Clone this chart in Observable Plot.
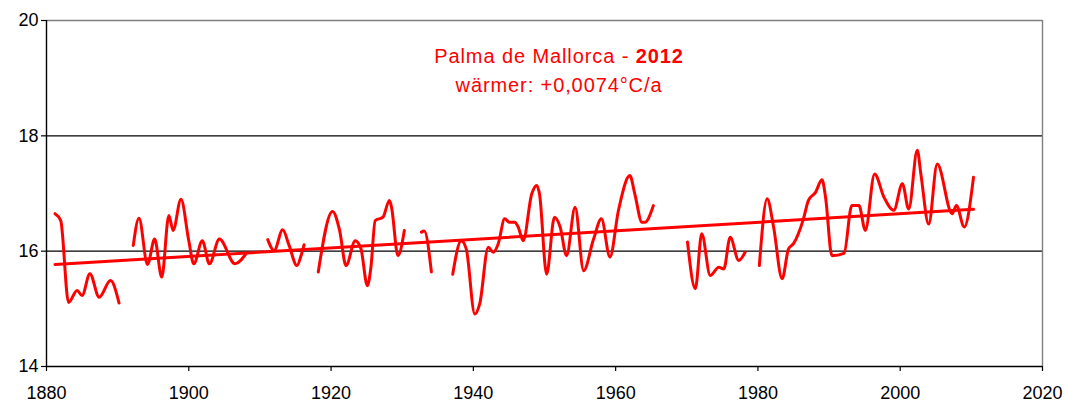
<!DOCTYPE html>
<html><head><meta charset="utf-8">
<script src="https://cdn.jsdelivr.net/npm/d3@7"></script>
<script src="https://cdn.jsdelivr.net/npm/@observablehq/plot@0.6"></script>
<style>
body{margin:0;background:#fff}
#wrap{position:relative;width:1066px;height:403px}
svg{font-family:"Liberation Sans",Arial,sans-serif}
#title{position:absolute;left:309px;top:42px;width:500px;text-align:center;color:#ff0000;
font-family:"Liberation Sans",Arial,sans-serif;font-size:20px;letter-spacing:0.9px;line-height:29px}
</style>
</head><body>
<div id="wrap"><div id="chart"></div>
<div id="title">Palma de Mallorca - <b>2012</b><br>wärmer: +0,0074°C/a</div></div>
<script>
// Smoothed annual mean temperature (°C), null = gap
const years = [
1881.2,1882.0,1883.1,1884.3,1885.0,1886.1,1887.4,1889.0,1890.2, null,
1892.2,1893.0,1894.2,1895.2,1896.2,1897.2,1897.8,1898.9,1900.0,1900.7,1901.9,1902.9,1904.3,1906.5,1908.0, null,
1911.1,1912.0,1913.2,1914.1,1915.2,1915.8,1916.2, null,
1918.2,1920.2,1921.2,1922.1,1923.4,1924.2,1925.1,1925.6,1926.2,1927.3,1928.2,1928.5,1929.4,1930.3, null,
1932.7,1933.1,1934.1, null,
1937.1,1938.3,1939.0,1940.2,1940.9,1942.1,1942.8,1943.5,1944.4,1945.1,1945.8,1946.3,1947.0,1948.2,1948.9,1949.3,1950.3,1951.4,1952.2,1953.1,1954.3,1955.5,1956.9,1958.0,1959.2,1960.4,1962.0,1962.7,1963.7,1964.1,1965.3, null,
1970.1,1971.2,1972.1,1973.3,1974.5,1975.2,1976.1,1977.3,1978.2, null,
1980.2,1981.3,1982.2,1983.4,1984.3,1985.0,1986.4,1987.1,1988.1,1989.0,1989.5,1990.4,1992.1,1993.2,1994.2,1995.1,1996.4,1997.7,1999.1,2000.3,2001.2,2002.4,2002.9,2004.0,2005.2,2007.3,2007.9,2009.0,2010.3
];
const temps = [
16.65,16.53,15.11,15.32,15.23,15.61,15.2,15.49,15.1, null,
16.1,16.57,15.77,16.21,15.55,16.62,16.36,16.9,16.18,15.78,16.18,15.78,16.21,15.78,15.95, null,
16.2,16.01,16.37,16.1,15.75,15.93,16.11, null,
15.64,16.69,16.36,15.75,16.18,16.04,15.4,15.72,16.53,16.59,16.88,16.76,15.92,16.36, null,
16.33,16.35,15.64, null,
15.6,16.18,16.04,14.91,15.09,16.07,15.98,16.13,16.56,16.5,16.5,16.42,16.18,16.99,17.14,16.99,15.6,16.59,16.42,15.92,16.76,15.66,16.21,16.56,15.9,16.71,17.31,16.99,16.5,16.5,16.79, null,
16.16,15.35,16.3,15.58,15.72,15.69,16.24,15.84,15.98, null,
15.75,16.91,16.42,15.52,16.04,16.13,16.56,16.88,17.02,17.24,16.94,15.92,15.96,16.79,16.79,16.36,17.34,16.94,16.71,17.17,16.73,17.75,17.34,16.47,17.51,16.65,16.79,16.42,17.28
];
// Linear trend (+0.0074 °C/a)
const trendYears = [1881.2, 2010.3];
const trendTemps = [15.77, 16.725];
// Axis ticks
const xTicks = [1880, 1900, 1920, 1940, 1960, 1980, 2000, 2020];
const yTicks = [14, 16, 18, 20];
const gridLines = [16, 18];

const data = years.map((x, i) => ({x, y: temps[i]}));
const trend = trendYears.map((x, i) => ({x, y: trendTemps[i]}));

const chart = Plot.plot({
  width: 1066, height: 403,
  marginLeft: 46, marginRight: 24, marginTop: 20, marginBottom: 37,
  style: {fontSize: "18px", fontFamily: '"Liberation Sans",Arial,sans-serif', color: "black", background: "white"},
  x: {domain: [1880, 2020]},
  y: {domain: [14, 20]},
  marks: [
    Plot.ruleY(gridLines, {stroke: "black", strokeWidth: 1.4}),
    Plot.ruleY([20], {stroke: "#808080", strokeWidth: 1.4}),
    Plot.ruleX([2020], {stroke: "#808080", strokeWidth: 1.4}),
    Plot.ruleX([1880], {stroke: "black", strokeWidth: 1.4}),
    Plot.ruleY([14], {stroke: "black", strokeWidth: 1.4}),
    Plot.axisX({ticks: xTicks, tickFormat: "d", tickSize: 5, tickPadding: 15, label: null, stroke: "black", fill: "black", strokeWidth: 1.2}),
    Plot.axisY({ticks: yTicks, tickFormat: "d", tickSize: 5, tickPadding: 3, label: null, stroke: "black", fill: "black", strokeWidth: 1.2}),
    Plot.line(data, {x: "x", y: "y", stroke: "#ff0000", strokeWidth: 3, curve: "monotone-x"}),
    Plot.line(trend, {x: "x", y: "y", stroke: "#ff0000", strokeWidth: 3})
  ]
});
document.getElementById("chart").appendChild(chart);
</script>
</body></html>
